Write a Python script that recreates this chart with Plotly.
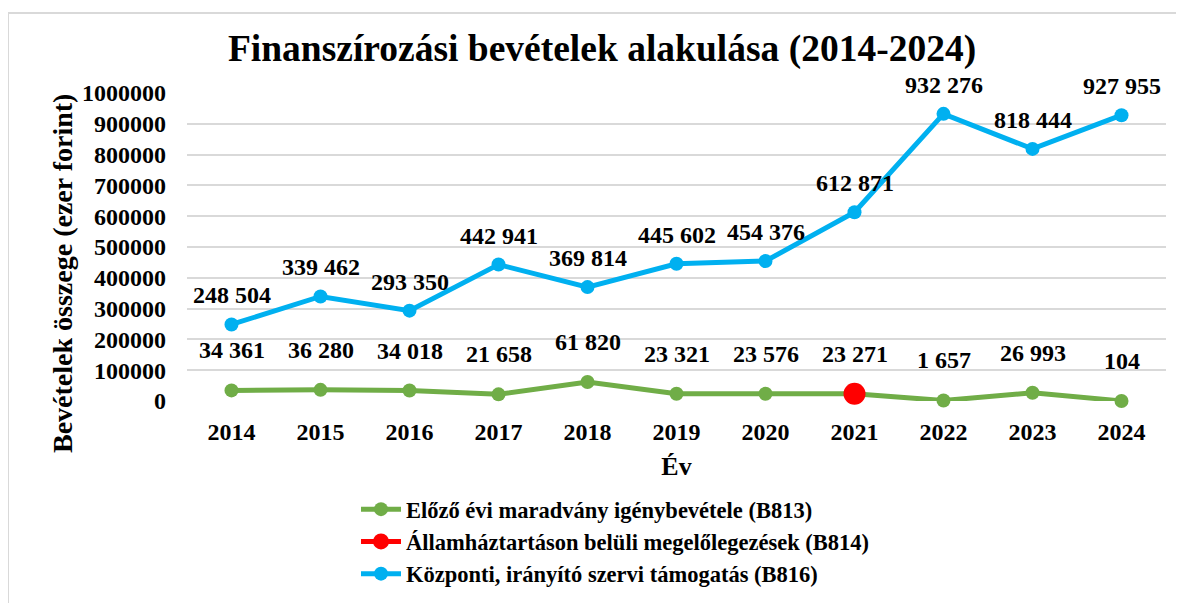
import plotly.graph_objects as go

years = ["2014", "2015", "2016", "2017", "2018", "2019", "2020", "2021", "2022", "2023", "2024"]
b813 = [34361, 36280, 34018, 21658, 61820, 23321, 23576, 23271, 1657, 26993, 104]
b814 = [None, None, None, None, None, None, None, 23271, None, None, None]
b816 = [248504, 339462, 293350, 442941, 369814, 445602, 454376, 612871, 932276, 818444, 927955]
y_ticks = [0, 100000, 200000, 300000, 400000, 500000, 600000, 700000, 800000, 900000, 1000000]

names = [
    "Előző évi maradvány igénybevétele (B813)",
    "Államháztartáson belüli megelőlegezések (B814)",
    "Központi, irányító szervi támogatás (B816)",
]
y_title = "Bevételek összege (ezer forint)"
GREEN = "#70ad47"
RED = "#ff0000"
BLUE = "#00b0f0"
FONT = "Times New Roman, Liberation Serif, serif"


def fmt(v):
    return f"{v:,}".replace(",", " ")


idx = list(range(len(years)))

fig = go.Figure()
fig.add_trace(go.Scatter(x=idx, y=b813, name=names[0], mode="lines+markers",
                         line=dict(color=GREEN, width=5), marker=dict(size=14, color=GREEN)))
fig.add_trace(go.Scatter(x=idx, y=b814, name=names[1], mode="lines+markers",
                         line=dict(color=RED, width=5), marker=dict(size=22, color=RED)))
fig.add_trace(go.Scatter(x=idx, y=b816, name=names[2], mode="lines+markers",
                         line=dict(color=BLUE, width=5), marker=dict(size=14, color=BLUE)))

OFF = 8  # page body margin offset
# desired on-screen plot area
px_l, px_r, py_t, py_b = 187, 1166, 93, 401
W = px_r - px_l
H = py_b - py_t


def xp(p):
    return (p - px_l) / W


def yp(p):
    return (py_b - p) / H


annotations = []
for series, shift in ((b813, 40), (b816, 29)):
    for i, v in zip(idx, series):
        annotations.append(dict(x=i, y=v, xref="x", yref="y", text=f"<b>{fmt(v)}</b>",
                                showarrow=False, yshift=shift,
                                font=dict(family=FONT, size=24, color="black"), yanchor="middle"))
annotations.append(dict(x=xp(62), y=yp(274), xref="paper", yref="paper",
                        text=f"<b>{y_title}</b>", textangle=-90, showarrow=False,
                        xanchor="center", yanchor="middle",
                        font=dict(family=FONT, size=28, color="black")))

fig.update_layout(
    width=1184, height=603,
    margin=dict(l=px_l - OFF, r=1184 - (px_r - OFF), t=py_t - OFF, b=603 - (py_b - OFF),
                autoexpand=False),
    paper_bgcolor="white", plot_bgcolor="white",
    font=dict(family=FONT, color="black", size=20),
    title=dict(text="<b>Finanszírozási bevételek alakulása (2014-2024)</b>",
               x=(602 - OFF) / 1184, xref="container", xanchor="center",
               y=1 - (48 - OFF) / 603, yref="container", yanchor="middle",
               font=dict(family=FONT, size=37.5, color="black")),
    xaxis=dict(range=[-0.5, len(years) - 0.5], tickvals=idx,
               ticktext=[f"<b>{y}</b>" for y in years],
               showgrid=False, zeroline=False, showline=False,
               tickfont=dict(family=FONT, size=24, color="black"), ticklabelstandoff=14,
               title=dict(text="<b>Év</b>", font=dict(family=FONT, size=26), standoff=12)),
    yaxis=dict(range=[0, 1000000], tickvals=y_ticks, ticktext=[f"<b>{v}</b>" for v in y_ticks],
               showgrid=True, gridcolor="#d9d9d9", gridwidth=1.5, zeroline=False, showline=False,
               tickfont=dict(family=FONT, size=24, color="black"), ticklabelstandoff=20),
    legend=dict(x=xp(356), y=yp(488), xanchor="left", yanchor="top",
                font=dict(family=FONT, size=22.5, color="black"), bgcolor="rgba(0,0,0,0)",
                tracegroupgap=0, itemwidth=40),
    annotations=annotations,
    shapes=[dict(type="rect", xref="paper", yref="paper",
                 x0=xp(8), x1=xp(1200), y0=yp(620), y1=yp(13),
                 line=dict(color="#d9d9d9", width=2), layer="below")],
    showlegend=True,
)
for tr in fig.data:
    tr.name = f"<b>{tr.name}</b>"
    tr.cliponaxis = False

fig.write_html("out.html")
